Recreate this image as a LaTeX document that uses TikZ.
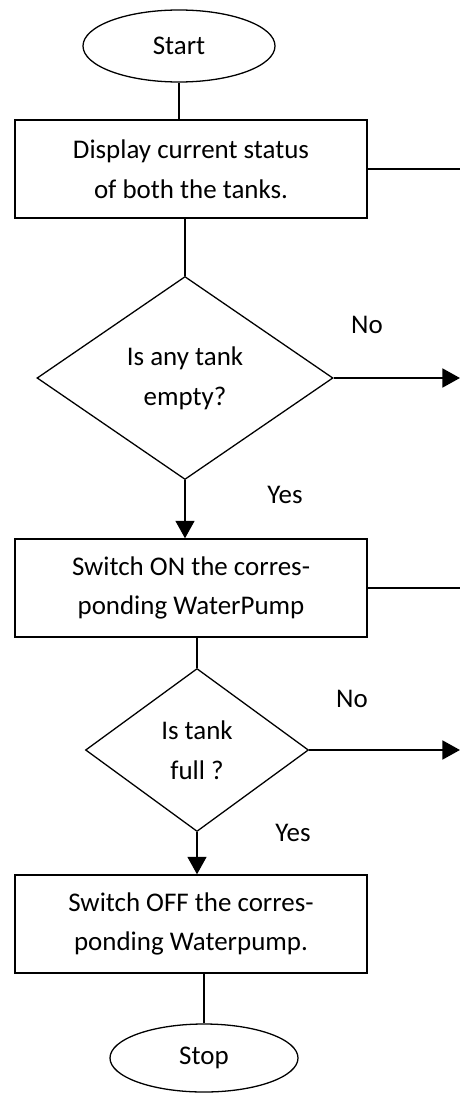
\documentclass[tikz,border=0pt]{standalone}
\usepackage{fontspec}
\setmainfont{Carlito}
\usetikzlibrary{shapes.geometric, arrows.meta}

\begin{document}
\begin{tikzpicture}[
  x=0.03cm, y=-0.03cm,
  font=\fontsize{23}{34}\selectfont,
  term/.style={draw, line width=1.1pt, ellipse, inner sep=0pt},
  box/.style={draw, line width=1.1pt, rectangle, minimum width=10.56cm,
              minimum height=2.94cm, align=center, inner sep=0pt},
  dec/.style={draw, line width=1.1pt, diamond, inner sep=0pt, align=center},
  ln/.style={line width=1.1pt},
  arr/.style={line width=2.2pt, -{Triangle[length=15pt, width=16pt]}},
  lbl/.style={inner sep=1pt}
]
\useasboundingbox (0,0) rectangle (460,1093);
% ---------------- nodes ----------------
\node[term, minimum width=5.76cm, minimum height=2.16cm] (start) at (179,46) {Start};
\node[box] (show) at (191,169) {Display current status\\of both the tanks.};
\node[dec, minimum width=8.88cm, minimum height=6.09cm] (empty) at (185,378) {Is any tank\\empty?};
\node[box] (pumpon) at (191,588) {Switch ON the corres-\\ponding WaterPump};
\node[dec, minimum width=6.69cm, minimum height=4.89cm] (full) at (197,750) {Is tank\\full ?};
\node[box] (pumpoff) at (191,924) {Switch OFF the corres-\\ponding Waterpump.};
\node[term, minimum width=5.64cm, minimum height=2.04cm] (stop) at (204,1058) {Stop};
% free ends at the right border
\coordinate (edge) at (460,0);
% ---------------- connectors ----------------
\draw[ln] (start) -- (start |- show.north);
\draw[ln] (show.south -| empty.north) -- (empty.north);
\draw[ln] (show.east) -- (show.east -| edge);
\draw[arr] (empty.east) -- (empty.east -| edge);
\draw[arr] (empty.south) -- (empty.south |- pumpon.north);
\draw[ln] (pumpon.east) -- (pumpon.east -| edge);
\draw[ln] (pumpon.south -| full.north) -- (full.north);
\draw[arr] (full.east) -- (full.east -| edge);
\draw[arr] (full.south) -- (full.south |- pumpoff.north);
\draw[ln] (pumpoff.south -| stop.north) -- (stop.north);
% ---------------- labels ----------------
\node[lbl] (no1) at (367,325) {No};
\node[lbl] (yes1) at (285,495) {Yes};
\node[lbl] (no2) at (352,699) {No};
\node[lbl] (yes2) at (293,833) {Yes};
\end{tikzpicture}
\end{document}
